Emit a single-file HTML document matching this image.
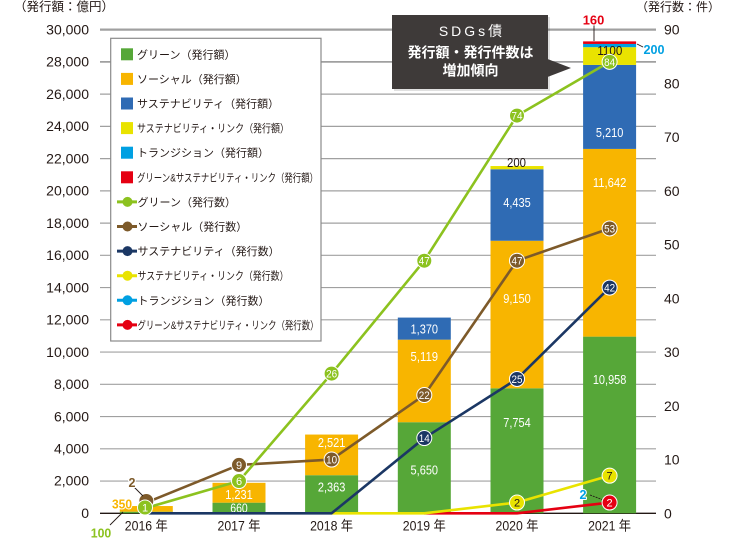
<!DOCTYPE html>
<html><head><meta charset="utf-8"><style>
html,body{margin:0;padding:0;background:#fff;}
svg{display:block;}
text{font-family:"Liberation Sans","Noto Sans CJK JP",sans-serif;}
</style></head><body>
<svg width="730" height="550" viewBox="0 0 730 550" xmlns="http://www.w3.org/2000/svg">
<rect width="730" height="550" fill="#fff"/>
<!-- gridlines -->
<g stroke="#a0a0a0" stroke-width="1.2">
<line x1="100" x2="656" y1="481.05" y2="481.05"/>
<line x1="100" x2="656" y1="448.81" y2="448.81"/>
<line x1="100" x2="656" y1="416.56" y2="416.56"/>
<line x1="100" x2="656" y1="384.32" y2="384.32"/>
<line x1="100" x2="656" y1="352.07" y2="352.07"/>
<line x1="100" x2="656" y1="319.82" y2="319.82"/>
<line x1="100" x2="656" y1="287.58" y2="287.58"/>
<line x1="100" x2="656" y1="255.33" y2="255.33"/>
<line x1="100" x2="656" y1="223.09" y2="223.09"/>
<line x1="100" x2="656" y1="190.84" y2="190.84"/>
<line x1="100" x2="656" y1="158.59" y2="158.59"/>
<line x1="100" x2="656" y1="126.35" y2="126.35"/>
<line x1="100" x2="656" y1="94.10" y2="94.10"/>
<line x1="100" x2="656" y1="61.86" y2="61.86" stroke-width="1.8"/>
<line x1="100" x2="656" y1="29.61" y2="29.61" stroke-width="2.2"/>
</g>
<line x1="100" x2="656" y1="513.3" y2="513.3" stroke="#231815" stroke-width="1.3"/>

<!-- left axis labels -->
<g font-size="14" fill="#231815" text-anchor="end">
<text x="89" y="518">0</text>
<text x="89" y="485.7">2,000</text>
<text x="89" y="453.5">4,000</text>
<text x="89" y="421.3">6,000</text>
<text x="89" y="389">8,000</text>
<text x="89" y="356.8">10,000</text>
<text x="89" y="324.5">12,000</text>
<text x="89" y="292.3">14,000</text>
<text x="89" y="260">16,000</text>
<text x="89" y="227.8">18,000</text>
<text x="89" y="195.5">20,000</text>
<text x="89" y="163.3">22,000</text>
<text x="89" y="131">24,000</text>
<text x="89" y="98.8">26,000</text>
<text x="89" y="66.5">28,000</text>
<text x="89" y="34.3">30,000</text>
</g>
<!-- right axis labels -->
<g font-size="14" fill="#231815">
<text x="664" y="518.3">0</text>
<text x="664" y="464.6">10</text>
<text x="664" y="410.8">20</text>
<text x="664" y="357.1">30</text>
<text x="664" y="303.3">40</text>
<text x="664" y="249.6">50</text>
<text x="664" y="195.8">60</text>
<text x="664" y="142.1">70</text>
<text x="664" y="88.3">80</text>
<text x="664" y="34.6">90</text>
</g>
<text x="14" y="11" font-size="12.5" fill="#231815">（発行額：億円）</text>
<text x="636" y="11" font-size="12" fill="#231815">（発行数：件）</text>

<!-- x labels -->
<g font-size="13.5" fill="#231815" text-anchor="middle">
<text x="146.3" y="530.7" textLength="43" lengthAdjust="spacingAndGlyphs">2016 年</text>
<text x="239" y="530.7" textLength="43" lengthAdjust="spacingAndGlyphs">2017 年</text>
<text x="331.6" y="530.7" textLength="43" lengthAdjust="spacingAndGlyphs">2018 年</text>
<text x="424.3" y="530.7" textLength="43" lengthAdjust="spacingAndGlyphs">2019 年</text>
<text x="517" y="530.7" textLength="43" lengthAdjust="spacingAndGlyphs">2020 年</text>
<text x="609.6" y="530.7" textLength="43" lengthAdjust="spacingAndGlyphs">2021 年</text>
</g>

<!-- bars -->
<g>
<rect x="119.8" y="511.69" width="53" height="1.61" fill="#56a738"/>
<rect x="119.8" y="506.04" width="53" height="5.65" fill="#f8b500"/>

<rect x="212.5" y="502.66" width="53" height="10.64" fill="#56a738"/>
<rect x="212.5" y="482.81" width="53" height="19.85" fill="#f8b500"/>

<rect x="305.1" y="475.2" width="53" height="38.1" fill="#56a738"/>
<rect x="305.1" y="434.55" width="53" height="40.65" fill="#f8b500"/>

<rect x="397.8" y="422.21" width="53" height="91.09" fill="#56a738"/>
<rect x="397.8" y="339.67" width="53" height="82.54" fill="#f8b500"/>
<rect x="397.8" y="317.58" width="53" height="22.09" fill="#2f6bb4"/>

<rect x="490.5" y="388.28" width="53" height="125.02" fill="#56a738"/>
<rect x="490.5" y="240.76" width="53" height="147.52" fill="#f8b500"/>
<rect x="490.5" y="169.25" width="53" height="71.51" fill="#2f6bb4"/>
<rect x="490.5" y="166.03" width="53" height="3.22" fill="#e9e300"/>

<rect x="583.1" y="336.62" width="53" height="176.68" fill="#56a738"/>
<rect x="583.1" y="148.92" width="53" height="187.7" fill="#f8b500"/>
<rect x="583.1" y="64.92" width="53" height="84" fill="#2f6bb4"/>
<rect x="583.1" y="47.19" width="53" height="17.73" fill="#e9e300"/>
<rect x="583.1" y="43.96" width="53" height="3.23" fill="#00a0e2"/>
<rect x="583.1" y="41.38" width="53" height="2.58" fill="#e50012"/>
</g>

<!-- bar labels -->
<g font-size="12.5" fill="#fff" text-anchor="middle">
<text x="239" y="512.5" textLength="17.5" lengthAdjust="spacingAndGlyphs">660</text>
<text x="239" y="499" textLength="27.5" lengthAdjust="spacingAndGlyphs">1,231</text>
<text x="331.6" y="491.5" textLength="27.5" lengthAdjust="spacingAndGlyphs">2,363</text>
<text x="331.6" y="446.8" textLength="27.5" lengthAdjust="spacingAndGlyphs">2,521</text>
<text x="424.3" y="474.5" textLength="27.5" lengthAdjust="spacingAndGlyphs">5,650</text>
<text x="424.3" y="361.2" textLength="27.5" lengthAdjust="spacingAndGlyphs">5,119</text>
<text x="424.3" y="333.5" textLength="27.5" lengthAdjust="spacingAndGlyphs">1,370</text>
<text x="517" y="427.2" textLength="27.5" lengthAdjust="spacingAndGlyphs">7,754</text>
<text x="517" y="302.8" textLength="27.5" lengthAdjust="spacingAndGlyphs">9,150</text>
<text x="517" y="206.8" textLength="27.5" lengthAdjust="spacingAndGlyphs">4,435</text>
<text x="609.6" y="383.8" textLength="33.5" lengthAdjust="spacingAndGlyphs">10,958</text>
<text x="609.6" y="186.8" textLength="33.5" lengthAdjust="spacingAndGlyphs">11,642</text>
<text x="609.6" y="136.8" textLength="27.5" lengthAdjust="spacingAndGlyphs">5,210</text>
</g>
<g font-size="12.5" fill="#231815" text-anchor="middle">
<text x="516.5" y="167.2" textLength="19" lengthAdjust="spacingAndGlyphs">200</text>
<text x="609.8" y="55.2" textLength="25" lengthAdjust="spacingAndGlyphs">1100</text>
</g>

<!-- lines -->
<g fill="none" stroke-width="2.6" stroke-linejoin="round">
<polyline points="424.3,513.3 517,513.3 609.6,502.55" stroke="#e50012"/>
<polyline points="331.6,513.3 424.3,513.3 517,502.55 609.6,475.68" stroke="#e9e300"/>
<polyline points="146.3,513.3 239,513.3 331.6,513.3 424.3,438.06 517,378.94 609.6,287.58" stroke="#1b3764"/>
<polyline points="146.3,502.55 239,464.93 331.6,459.56 424.3,395.06 517,260.7 609.6,228.46" stroke="#7d5a2a"/>
<polyline points="146.3,507.93 239,481.05 331.6,373.57 424.3,260.7 517,115.6 609.6,61.85" stroke="#8cc21f"/>
</g>

<!-- markers -->
<g stroke="#fff" stroke-width="1">
<circle cx="609.6" cy="502.55" r="7.5" fill="#e50012"/>
<circle cx="517" cy="502.55" r="7.5" fill="#e9e300"/>
<circle cx="609.6" cy="475.68" r="7.5" fill="#e9e300"/>
<circle cx="424.3" cy="438.06" r="7.5" fill="#1b3764"/>
<circle cx="517" cy="378.94" r="7.5" fill="#1b3764"/>
<circle cx="609.6" cy="287.58" r="7.5" fill="#1b3764"/>
<circle cx="146.3" cy="501" r="7.5" fill="#7d5a2a"/>
<circle cx="239" cy="464.93" r="7.5" fill="#7d5a2a"/>
<circle cx="331.6" cy="459.56" r="7.5" fill="#7d5a2a"/>
<circle cx="424.3" cy="395.06" r="7.5" fill="#7d5a2a"/>
<circle cx="517" cy="260.7" r="7.5" fill="#7d5a2a"/>
<circle cx="609.6" cy="228.46" r="7.5" fill="#7d5a2a"/>
<circle cx="145" cy="507.5" r="7.5" fill="#8cc21f"/>
<circle cx="239" cy="481.05" r="7.5" fill="#8cc21f"/>
<circle cx="331.6" cy="373.57" r="7.5" fill="#8cc21f"/>
<circle cx="424.3" cy="260.7" r="7.5" fill="#8cc21f"/>
<circle cx="517" cy="115.6" r="7.5" fill="#8cc21f"/>
<circle cx="609.6" cy="61.85" r="7.5" fill="#8cc21f"/>
</g>
<g font-size="11" fill="#fff" text-anchor="middle">
<text x="609.6" y="506.5">2</text>
<text x="517" y="506.5" fill="#231815">2</text>
<text x="609.6" y="479.6" fill="#231815">7</text>
<text x="424.3" y="442" textLength="11" lengthAdjust="spacingAndGlyphs">14</text>
<text x="517" y="382.9" textLength="11" lengthAdjust="spacingAndGlyphs">25</text>
<text x="609.6" y="291.5" textLength="11" lengthAdjust="spacingAndGlyphs">42</text>
<text x="239" y="468.9">9</text>
<text x="331.6" y="463.5" textLength="11" lengthAdjust="spacingAndGlyphs">10</text>
<text x="424.3" y="399" textLength="11" lengthAdjust="spacingAndGlyphs">22</text>
<text x="517" y="264.6" textLength="11" lengthAdjust="spacingAndGlyphs">47</text>
<text x="609.6" y="232.4" textLength="11" lengthAdjust="spacingAndGlyphs">53</text>
<text x="145" y="511.5">1</text>
<text x="239" y="485">6</text>
<text x="331.6" y="377.5" textLength="11" lengthAdjust="spacingAndGlyphs">26</text>
<text x="424.3" y="264.6" textLength="11" lengthAdjust="spacingAndGlyphs">47</text>
<text x="517" y="119.5" textLength="11" lengthAdjust="spacingAndGlyphs">74</text>
<text x="609.6" y="65.8" textLength="11" lengthAdjust="spacingAndGlyphs">84</text>
</g>

<!-- leader lines -->
<g stroke="#231815" stroke-width="0.9" fill="none">
<line x1="134" y1="487" x2="143" y2="496"/>
<line x1="110" y1="525" x2="123" y2="512"/>
<line x1="594" y1="25" x2="594" y2="41"/>
<line x1="637" y1="44" x2="645" y2="48"/>
<line x1="590" y1="495" x2="602" y2="499.5" stroke-dasharray="2,1"/>
</g>
<!-- outlined callout numbers -->
<g font-size="12.5" font-weight="bold" text-anchor="middle" stroke="#fff" stroke-width="2" paint-order="stroke" stroke-linejoin="round">
<text x="132" y="487" fill="#7d5a2a">2</text>
<text x="122" y="508.5" fill="#f8b500" textLength="20" lengthAdjust="spacingAndGlyphs">350</text>
<text x="101" y="537.5" fill="#8cc21f" textLength="20.5" lengthAdjust="spacingAndGlyphs">100</text>
<text x="593.5" y="24.5" fill="#e50012" textLength="21.5" lengthAdjust="spacingAndGlyphs">160</text>
<text x="654" y="54" fill="#00a0e2" textLength="21" lengthAdjust="spacingAndGlyphs">200</text>
<text x="583" y="499" fill="#00a0e2">2</text>
</g>

<!-- legend -->
<rect x="110.7" y="38.3" width="210.3" height="302.7" fill="#fff" stroke="#8a8a8a" stroke-width="1.2"/>
<g>
<rect x="121" y="48.3" width="12" height="12" fill="#56a738"/>
<rect x="121" y="72.9" width="12" height="12" fill="#f8b500"/>
<rect x="121" y="97.5" width="12" height="12" fill="#2f6bb4"/>
<rect x="121" y="122.1" width="12" height="12" fill="#e9e300"/>
<rect x="121" y="146.7" width="12" height="12" fill="#00a0e2"/>
<rect x="121" y="171.3" width="12" height="12" fill="#e50012"/>
</g>
<g stroke-width="3">
<line x1="117" x2="137" y1="201.9" y2="201.9" stroke="#8cc21f"/><circle cx="127.5" cy="201.9" r="5" fill="#8cc21f"/>
<line x1="117" x2="137" y1="226.5" y2="226.5" stroke="#7d5a2a"/><circle cx="127.5" cy="226.5" r="5" fill="#7d5a2a"/>
<line x1="117" x2="137" y1="251.1" y2="251.1" stroke="#1b3764"/><circle cx="127.5" cy="251.1" r="5" fill="#1b3764"/>
<line x1="117" x2="137" y1="275.7" y2="275.7" stroke="#e9e300"/><circle cx="127.5" cy="275.7" r="5" fill="#e9e300"/>
<line x1="117" x2="137" y1="300.3" y2="300.3" stroke="#00a0e2"/><circle cx="127.5" cy="300.3" r="5" fill="#00a0e2"/>
<line x1="117" x2="137" y1="324.9" y2="324.9" stroke="#e50012"/><circle cx="127.5" cy="324.9" r="5" fill="#e50012"/>
</g>
<g font-size="11" fill="#231815">
<text x="137" y="58.3">グリーン（発行額）</text>
<text x="137" y="82.9">ソーシャル（発行額）</text>
<text x="137" y="107.5">サステナビリティ（発行額）</text>
<text x="137" y="132.1" textLength="152" lengthAdjust="spacingAndGlyphs">サステナビリティ・リンク（発行額）</text>
<text x="137" y="156.7">トランジション（発行額）</text>
<text x="137" y="181.3" textLength="181" lengthAdjust="spacingAndGlyphs">グリーン&amp;サステナビリティ・リンク（発行額）</text>
<text x="137.5" y="205.9">グリーン（発行数）</text>
<text x="137.5" y="230.5">ソーシャル（発行数）</text>
<text x="137.5" y="255.1">サステナビリティ（発行数）</text>
<text x="137.5" y="279.7" textLength="151" lengthAdjust="spacingAndGlyphs">サステナビリティ・リンク（発行数）</text>
<text x="137.5" y="304.3">トランジション（発行数）</text>
<text x="137.5" y="328.9" textLength="181" lengthAdjust="spacingAndGlyphs">グリーン&amp;サステナビリティ・リンク（発行数）</text>
</g>

<!-- callout -->
<rect x="394" y="17" width="156" height="74" fill="#000" opacity="0.12"/>
<rect x="392" y="15" width="156" height="74" fill="#3e3a39"/>
<polygon points="547.5,59 571,68 547.5,77" fill="#3e3a39"/>
<g fill="#fff" text-anchor="middle" font-size="14">
<text x="472" y="36" letter-spacing="3">SDGs債</text>
<text x="470.5" y="57.7" font-weight="bold">発行額・発行件数は</text>
<text x="470.5" y="75.7" font-weight="bold">増加傾向</text>
</g>
</svg>
</body></html>
